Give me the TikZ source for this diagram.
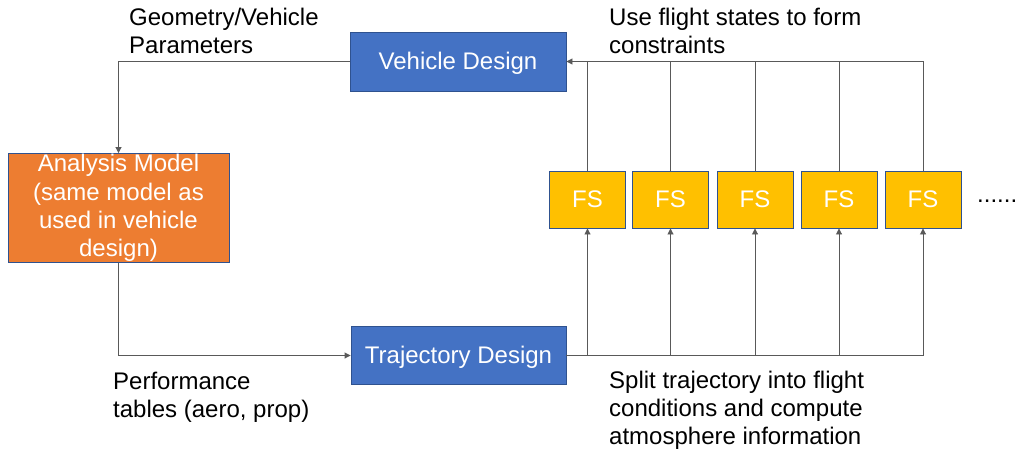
\documentclass[tikz,border=0pt]{standalone}
\usepackage{fontspec}
\setmainfont{Liberation Sans}
\usetikzlibrary{arrows.meta}
\definecolor{vblue}{HTML}{4472C4}
\definecolor{vorange}{HTML}{ED7D31}
\definecolor{vyellow}{HTML}{FFC000}
\definecolor{vborder}{HTML}{2F528F}
\definecolor{vline}{HTML}{595959}
\tikzset{
  box/.style={draw=vborder, line width=0.9pt, text=white, inner sep=0pt,
    font=\fontsize{24}{28.3}\selectfont, align=center},
  onebox/.style={box, text height=17pt, text depth=1pt},
  bluebox/.style={onebox, fill=vblue},
  fsbox/.style={onebox, fill=vyellow, minimum width=76pt, minimum height=57pt},
  conn/.style={draw=vline, line width=0.9pt},
  arr/.style={conn, -{Triangle[length=6pt,width=6pt]}},
  lbl/.style={inner sep=0pt, anchor=north west, align=left,
    font=\fontsize{24}{28.3}\selectfont}
}
\begin{document}
\begin{tikzpicture}[x=1pt,y=-1pt]
\useasboundingbox (0,0) rectangle (1024,455);
\node[bluebox, minimum width=216pt, minimum height=59pt] (vd) at (458,61.5) {Vehicle Design};
\node[bluebox, minimum width=215pt, minimum height=58pt] (td) at (458.5,355.5) {Trajectory Design};
\node[box, fill=vorange, minimum width=221pt, minimum height=109pt] (am) at (118.5,208)
  {Analysis Model\\(same model as\\used in vehicle\\design)};
\node[fsbox] (fs1) at (587.5,199.5) {FS};
\node[fsbox] (fs2) at (670.5,199.5) {FS};
\node[fsbox] (fs3) at (755,199.5) {FS};
\node[fsbox] (fs4) at (839,199.5) {FS};
\node[fsbox] (fs5) at (923,199.5) {FS};
\node[inner sep=0pt, anchor=base west, font=\fontsize{24}{28.3}\selectfont] (dots) at (977,202) {......};

\draw[arr] (fs5.north) |- (vd.east);
\foreach \i in {1,2,3,4}{
  \draw[conn] (fs\i.north) -- (fs\i.north |- vd.east);
}
\draw[arr] (td.east) -| (fs5.south);
\foreach \i in {1,2,3,4}{
  \draw[arr] (fs\i.south |- td.east) -- (fs\i.south);
}
\draw[arr] (vd.west) -| (am.north);
\draw[arr] (am.south) |- (td.west);

\node[lbl] (l1) at (129,7.5) {Geometry/Vehicle\\Parameters};
\node[lbl] (l2) at (609,8) {Use flight states to form\\constraints};
\node[lbl] (l3) at (113,371.5) {Performance\\tables (aero, prop)};
\node[lbl] (l4) at (609,370.5) {Split trajectory into flight\\conditions and compute\\atmosphere information};
\end{tikzpicture}
\end{document}
